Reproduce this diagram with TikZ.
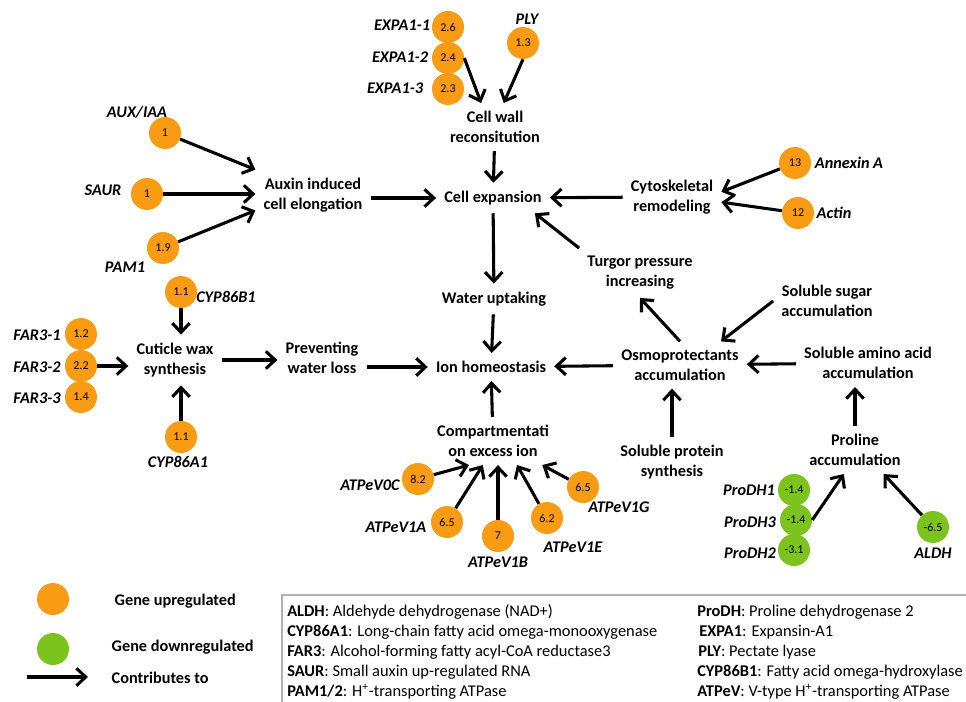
\documentclass[tikz,border=0pt]{standalone}
\usepackage{fontspec}
\setmainfont{Carlito}
\usetikzlibrary{arrows.meta}
\definecolor{uporange}{RGB}{250,155,20}
\definecolor{downgreen}{RGB}{125,195,30}

\begin{document}
\begin{tikzpicture}[x=0.75pt,y=-0.75pt,
        proc/.style={font=\bfseries\fontsize{12.2}{15}\selectfont,align=center,inner sep=6pt},
        genelab/.style={font=\bfseries\itshape\fontsize{12.2}{15}\selectfont,inner sep=1pt},
        upgene/.style={circle,fill=uporange,minimum size=24pt,inner sep=0pt,font=\fontsize{9}{10}\selectfont},
        downgene/.style={upgene,fill=downgreen},
        contrib/.style={line width=2.3pt,-{Straight Barb[length=7pt,width=13pt]}},
        legtext/.style={anchor=west,inner sep=0pt,font=\fontsize{12.3}{15}\selectfont}]
        \useasboundingbox (0,0) rectangle (966,702);

        % Central column - from cell wall down to ion homeostasis
        \node[proc] (cellwall) at (495,127) {Cell wall\\reconsitution};
        \node[proc] (cellexp) at (493,198) {Cell expansion};
        \node[proc] (water) at (494,299) {Water uptaking};
        \node[proc] (ion) at (491,367) {Ion homeostasis};
        \node[proc] (comp) at (493,441) {Compartmentati\\on excess ion};
        \draw[contrib] (cellwall) -- (cellexp);
        \draw[contrib] (cellexp) -- (water);
        \draw[contrib] (water) -- (ion);
        \draw[contrib] (comp) -- (ion);

        % Cell wall genes
        \node[upgene] (expa1) at (448,27) {2.6};
        \node[upgene] (expa2) at (448,58) {2.4};
        \node[upgene] (expa3) at (448,89) {2.3};
        \node[upgene] (ply) at (523,43) {1.3};
        \node[genelab] (expa1lab) at (402,25) {EXPA1-1};
        \node[genelab] (expa2lab) at (400,57) {EXPA1-2};
        \node[genelab] (expa3lab) at (395,88) {EXPA1-3};
        \node[genelab] (plylab) at (527,19) {PLY};
        \draw[contrib] (expa2.east) -- (cellwall.120);
        \draw[contrib] (ply.south) -- (cellwall.70);

        % Auxin induced cell elongation
        \node[proc] (auxin) at (313,195) {Auxin induced\\cell elongation};
        \node[upgene] (auxiaa) at (165,133) {1};
        \node[upgene] (saur) at (147,194) {1};
        \node[upgene] (pam1) at (163,248) {1.9};
        \node[genelab] (auxiaalab) at (137,112) {AUX/IAA};
        \node[genelab] (saurlab) at (103,190) {SAUR};
        \node[genelab] (pam1lab) at (125,267) {PAM1};
        \draw[contrib] (auxiaa) -- (auxin.north west);
        \draw[contrib] (saur) -- (saur -| auxin.west);
        \draw[contrib] (pam1) -- (auxin.-165);
        \draw[contrib] (auxin.east |- cellexp) -- (cellexp);

        % Cytoskeletal remodeling
        \node[proc] (cyto) at (672,197) {Cytoskeletal\\remodeling};
        \node[upgene] (annexin) at (795,163) {13};
        \node[upgene] (actin) at (798,213) {12};
        \node[genelab] (annexinlab) at (849,163) {Annexin A};
        \node[genelab] (actinlab) at (834,213) {Actin};
        \draw[contrib] (annexin) -- (cyto.6);
        \draw[contrib] (actin) -- (cyto.-6);
        \draw[contrib] (cyto) -- (cellexp);

        % Cuticle wax
        \node[proc] (cuticle) at (175,360) {Cuticle wax\\synthesis};
        \node[proc] (prevent) at (322,358) {Preventing\\water loss};
        \node[upgene] (cyp86b1) at (181,292) {1.1};
        \node[upgene] (cyp86a1) at (181,437) {1.1};
        \node[upgene] (far31) at (81,334) {1.2};
        \node[upgene] (far32) at (81,366) {2.2};
        \node[upgene] (far33) at (81,397) {1.4};
        \node[genelab] (cyp86b1lab) at (226,297) {CYP86B1};
        \node[genelab] (cyp86a1lab) at (178,462) {CYP86A1};
        \node[genelab] (far31lab) at (37,335) {FAR3-1};
        \node[genelab] (far32lab) at (37,367) {FAR3-2};
        \node[genelab] (far33lab) at (37,398) {FAR3-3};
        \draw[contrib] (cyp86b1) -- (cyp86b1 |- cuticle.north);
        \draw[contrib] (cyp86a1) -- (cyp86a1 |- cuticle.south);
        \draw[contrib] (far32) -- (far32 -| cuticle.west);
        \draw[contrib] (cuticle.east) -- (cuticle.east -| prevent.west);
        \draw[contrib] (prevent.east |- ion) -- (ion);

        % V-type ATPase genes
        \node[upgene] (atpv0c) at (418,479) {8.2};
        \node[upgene] (atpv1a) at (447,522) {6.5};
        \node[upgene] (atpv1b) at (498,536) {7};
        \node[upgene] (atpv1e) at (547,518) {6.2};
        \node[upgene] (atpv1g) at (583,487) {6.5};
        \node[genelab] (atpv0clab) at (370,485) {ATPeV0C};
        \node[genelab] (atpv1alab) at (396,527) {ATPeV1A};
        \node[genelab] (atpv1blab) at (498,562) {ATPeV1B};
        \node[genelab] (atpv1elab) at (573,547) {ATPeV1E};
        \node[genelab] (atpv1glab) at (619,507) {ATPeV1G};
        \draw[contrib] (atpv0c) -- (comp.-135);
        \draw[contrib] (atpv1a) -- (comp.-113);
        \draw[contrib] (atpv1b) -- (atpv1b |- comp.south);
        \draw[contrib] (atpv1e) -- (comp.-45);
        \draw[contrib] (atpv1g) -- (comp.-26);

        % Osmoprotectants
        \node[proc] (turgor) at (640,273) {Turgor pressure\\increasing};
        \node[proc] (osmo) at (680,365) {Osmoprotectants\\accumulation};
        \node[proc] (sugar) at (827,301) {Soluble sugar\\accumulation};
        \node[proc] (amino) at (868,363) {Soluble amino acid\\accumulation};
        \node[proc] (protein) at (672,462) {Soluble protein\\synthesis};
        \node[proc] (proline) at (855,450) {Proline\\accumulation};
        \draw[contrib] (turgor.north west) -- (cellexp.-20);
        \draw[contrib] (osmo.north) -- (turgor.south);
        \draw[contrib] (osmo) -- (ion);
        \draw[contrib] (sugar.west) -- (osmo.30);
        \draw[contrib] (amino) -- (osmo);
        \draw[contrib] (protein.north) -- (protein.north |- osmo.south);
        \draw[contrib] (proline.north) -- (proline.north |- amino.south);

        % Proline genes - downregulated
        \node[downgene] (prodh1) at (794,490) {-1.4};
        \node[downgene] (prodh3) at (796,520) {-1.4};
        \node[downgene] (prodh2) at (794,550) {-3.1};
        \node[downgene] (aldh) at (933,527) {-6.5};
        \node[genelab] (prodh1lab) at (749,490) {ProDH1};
        \node[genelab] (prodh3lab) at (750,522) {ProDH3};
        \node[genelab] (prodh2lab) at (750,553) {ProDH2};
        \node[genelab] (aldhlab) at (933,553) {ALDH};
        \draw[contrib] (prodh3.east) -- (proline.-115);
        \draw[contrib] (aldh) -- (proline.-40);

        % Legend
        \node[upgene] (legup) at (53,599) {};
        \node[downgene] (legdown) at (53,649) {};
        \coordinate (legarrfrom) at (27,677);
        \coordinate (legarrto) at (88,677);
        \draw[contrib] (legarrfrom) -- (legarrto);
        \node[anchor=west,font=\bfseries\fontsize{12.2}{15}\selectfont] (leguplab) at (110,601) {Gene upregulated};
        \node[anchor=west,font=\bfseries\fontsize{12.2}{15}\selectfont] (legdownlab) at (107,647) {Gene downregulated};
        \node[anchor=west,font=\bfseries\fontsize{12.2}{15}\selectfont] (legarrlab) at (107,678) {Contributes to};

        % Abbreviations box
        \draw[gray!60,line width=0.8pt] (282,702) |- (966,595);
        \node[legtext] (abbaldh) at (287,612) {\textbf{ALDH}: Aldehyde dehydrogenase (NAD+)};
        \node[legtext] (abbcypa) at (287,632) {\textbf{CYP86A1}: Long-chain fatty acid omega-monooxygenase};
        \node[legtext] (abbfar) at (287,652) {\textbf{FAR3}: Alcohol-forming fatty acyl-CoA reductase3};
        \node[legtext] (abbsaur) at (287,672) {\textbf{SAUR}: Small auxin up-regulated RNA};
        \node[legtext] (abbpam) at (287,692) {\textbf{PAM1/2}: H\textsuperscript{+}-transporting ATPase};
        \node[legtext] (abbprodh) at (697,612) {\textbf{ProDH}: Proline dehydrogenase 2};
        \node[legtext] (abbexpa) at (699,632) {\textbf{EXPA1}: Expansin-A1};
        \node[legtext] (abbply) at (698,652) {\textbf{PLY}: Pectate lyase};
        \node[legtext] (abbcypb) at (697,672) {\textbf{CYP86B1}: Fatty acid omega-hydroxylase};
        \node[legtext] (abbatp) at (697,692) {\textbf{ATPeV}: V-type H\textsuperscript{+}-transporting ATPase};
    \end{tikzpicture}
\end{document}
